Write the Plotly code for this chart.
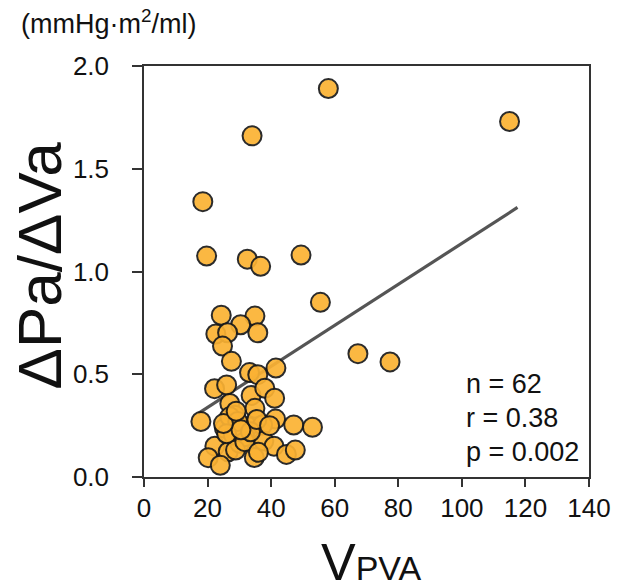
import plotly.graph_objects as go

# V_PVA (x) and ΔPa/ΔVa (y)
vpva = [58.0, 34.0, 115.0, 18.5, 19.7, 32.5, 36.7, 49.4, 55.5, 67.3, 77.4,
        24.3, 34.9, 30.4, 22.6, 26.3, 35.8, 24.7, 27.5, 41.5, 33.2, 35.8,
        22.2, 26.0, 27.0, 17.9, 33.7, 38.0, 41.1, 34.9, 41.4, 47.1, 53.0,
        27.0, 25.3, 32.7, 28.6, 37.3, 37.7, 40.9, 22.3, 26.5, 20.2, 24.0,
        34.7, 44.8, 47.6, 30.1, 31.7, 28.1, 28.8, 31.7, 27.0, 29.5, 26.0,
        33.5, 30.5, 36.0, 35.5, 25.0, 29.0, 39.5]
dpa_dva = [1.89, 1.66, 1.73, 1.34, 1.075, 1.06, 1.025, 1.08, 0.85, 0.60, 0.56,
           0.787, 0.783, 0.741, 0.696, 0.702, 0.702, 0.637, 0.563, 0.530, 0.508, 0.498,
           0.430, 0.448, 0.358, 0.270, 0.397, 0.432, 0.383, 0.334, 0.282, 0.253, 0.242,
           0.245, 0.237, 0.245, 0.300, 0.253, 0.175, 0.150, 0.150, 0.123, 0.094, 0.057,
           0.095, 0.110, 0.131, 0.164, 0.196, 0.204, 0.131, 0.172, 0.293, 0.270, 0.210,
           0.220, 0.230, 0.120, 0.280, 0.260, 0.320, 0.250]

# regression line
fit_slope = 0.00998
fit_intercept = 0.139
fit_x = [17.1, 117.5]
fit_y = [fit_intercept + fit_slope * v for v in fit_x]

x_ticks = [0, 20, 40, 60, 80, 100, 120, 140]
y_ticks = [0.0, 0.5, 1.0, 1.5, 2.0]
y_tick_labels = ["0.0", "0.5", "1.0", "1.5", "2.0"]
stats_lines = ["n = 62", "r = 0.38", "p = 0.002"]

FONT = "Arial, Liberation Sans, sans-serif"
AX = "#333333"
TXT = "#111111"

fig = go.Figure()
fig.add_trace(go.Scatter(
    x=fit_x, y=fit_y, mode="lines",
    line=dict(color="#555555", width=3.2), hoverinfo="skip", showlegend=False))
fig.add_trace(go.Scatter(
    x=vpva, y=dpa_dva, mode="markers",
    marker=dict(size=19, color="#FBB233", opacity=0.92,
                line=dict(color="#1a1a1a", width=2)),
    showlegend=False))

# page body has an 8px margin: figure is sized/offset to compensate
fig.update_layout(
    width=615, height=574,
    margin=dict(l=136, r=25, t=58, b=105),
    paper_bgcolor="white", plot_bgcolor="white",
    font=dict(family=FONT, color=TXT),
    xaxis=dict(range=[0, 140], tickvals=x_ticks, ticks="outside", ticklen=8,
               tickwidth=1.5, tickcolor=AX, showline=True, linecolor=AX,
               linewidth=1.5, mirror=True, showgrid=False, zeroline=False,
               ticklabelstandoff=-1,
               tickfont=dict(size=26, family=FONT, color=TXT)),
    yaxis=dict(range=[0, 2.0], tickvals=y_ticks, ticktext=y_tick_labels,
               ticks="outside", ticklen=10, tickwidth=1.5, tickcolor=AX,
               showline=True, linecolor=AX, linewidth=1.5, mirror=True,
               showgrid=False, zeroline=False, ticklabelstandoff=18,
               tickfont=dict(size=26, family=FONT, color=TXT)),
)

annots = [
    dict(text="(mmHg·m<sup>2</sup>/ml)", xref="paper", yref="paper",
         x=-0.282, y=1.108, xanchor="left", yanchor="middle", showarrow=False,
         font=dict(size=27, family=FONT, color=TXT)),
    dict(text="ΔPa/ΔVa", xref="paper", yref="paper", x=0, y=0.5,
         xanchor="center", yanchor="middle", xshift=-105, yshift=6, textangle=-90,
         showarrow=False, font=dict(size=62, family=FONT, color=TXT)),
    dict(text="V<span style='font-size:34px'>PVA</span>", xref="paper",
         yref="paper", x=0.5, y=0, xanchor="center", yanchor="top", yshift=-54,
         xshift=5, showarrow=False, font=dict(size=52, family=FONT, color=TXT)),
]
for i, s in enumerate(stats_lines):
    annots.append(dict(text=s, xref="paper", yref="paper", x=0.718,
                       y=[0.226, 0.144, 0.061][i], xanchor="left",
                       yanchor="middle", showarrow=False,
                       font=dict(size=27, family=FONT, color=TXT)))
fig.update_layout(annotations=annots)

fig.write_html("out.html")
